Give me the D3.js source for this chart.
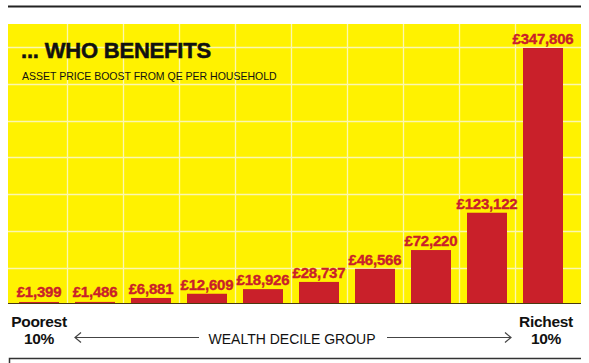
<!DOCTYPE html>
<html><head><meta charset="utf-8">
<script src="https://cdn.jsdelivr.net/npm/d3@7"></script>
<style>body{margin:0;background:#fff}svg{display:block}</style>
</head><body>
<script>
const deciles = ["1","2","3","4","5","6","7","8","9","10"];
const values = [1399,1486,6881,12609,18926,28737,46566,72220,123122,347806];
const valueLabels = ["£1,399","£1,486","£6,881","£12,609","£18,926","£28,737","£46,566","£72,220","£123,122","£347,806"];
const title = "... WHO BENEFITS";
const subtitle = "ASSET PRICE BOOST FROM QE PER HOUSEHOLD";
const axisTitle = "WEALTH DECILE GROUP";
const leftLabel = ["Poorest","10%"];
const rightLabel = ["Richest","10%"];

const W=589,H=363;
const FONT="Liberation Sans, Arial, sans-serif";
const svg=d3.select("body").append("svg").attr("width",W).attr("height",H);
const panel={x0:8,x1:581,y0:24,y1:303};
const x=d3.scaleBand().domain(deciles).range([11,571]).paddingInner(0.286).paddingOuter(0.143);
const y=d3.scaleLinear().domain([0,347806]).range([303,48]);
const RED="#c9202a", YEL="#fff200", GRID="#fbf7b0";

svg.append("line").attr("x1",8).attr("x2",581).attr("y1",6.5).attr("y2",6.5).attr("stroke","#222").attr("stroke-width",2);
svg.append("rect").attr("x",panel.x0).attr("y",panel.y0).attr("width",panel.x1-panel.x0).attr("height",panel.y1-panel.y0).attr("fill",YEL);

// horizontal grid
const hLines=d3.range(0,7).map(i=>47+i*36.8);
svg.selectAll(".hg").data(hLines).join("line").attr("x1",panel.x0).attr("x2",panel.x1)
  .attr("y1",d=>Math.round(d)+0.5).attr("y2",d=>Math.round(d)+0.5).attr("stroke",GRID).attr("stroke-width",1.3);
// vertical grid at band boundaries
const step=x.step();
const vLines=deciles.slice(1).map(d=>x(d)-(step-x.bandwidth())/2);
svg.selectAll(".vg").data(vLines).join("line").attr("y1",panel.y0).attr("y2",panel.y1)
  .attr("x1",d=>Math.round(d)+0.5).attr("x2",d=>Math.round(d)+0.5).attr("stroke",GRID).attr("stroke-width",1.3);

// bars
svg.selectAll(".bar").data(values).join("rect")
  .attr("x",(d,i)=>x(deciles[i])).attr("width",x.bandwidth())
  .attr("y",d=>y(d)).attr("height",d=>y(0)-y(d)).attr("fill",RED);
svg.append("line").attr("x1",panel.x0).attr("x2",panel.x1).attr("y1",303.5).attr("y2",303.5).attr("stroke","#4a3a10").attr("stroke-width",1);

// value labels
svg.selectAll(".vl").data(values).join("text")
  .attr("x",(d,i)=>x(deciles[i])+x.bandwidth()/2)
  .attr("y",d=>Math.min(y(d)-4,297))
  .attr("text-anchor","middle").attr("fill",RED)
  .attr("stroke",RED).attr("stroke-width",0.35)
  .attr("font-family",FONT).attr("font-weight","bold")
  .attr("font-size",15).attr("letter-spacing",-0.2)
  .text((d,i)=>valueLabels[i]);

// title
svg.append("text").attr("x",21).attr("y",58).text(title)
  .attr("font-family",FONT).attr("font-weight","bold")
  .attr("stroke","#111").attr("stroke-width",0.5)
  .attr("font-size",22).attr("letter-spacing",-0.2).attr("fill","#111");
svg.append("text").attr("x",22).attr("y",80).text(subtitle)
  .attr("font-family",FONT)
  .attr("font-size",10.5).attr("letter-spacing",0).attr("fill","#111");

// bottom labels
function corner(lbl,cx){
  lbl.forEach((t,k)=>{
    svg.append("text").attr("x",cx).attr("y",327+k*17).attr("text-anchor","middle").text(t)
      .attr("font-family",FONT).attr("font-weight","bold").attr("font-size",15.5)
      .attr("letter-spacing",-0.3).attr("fill","#111");
  });
}
corner(leftLabel,39); corner(rightLabel,546);

svg.append("text").attr("x",292).attr("y",344).attr("text-anchor","middle").text(axisTitle)
  .attr("font-family",FONT).attr("font-size",14).attr("fill","#111");
const ay=337.5;
svg.append("line").attr("x1",75).attr("x2",199).attr("y1",ay).attr("y2",ay).attr("stroke","#444").attr("stroke-width",1.2);
svg.append("path").attr("d",`M${81},${ay-5}L${75},${ay}L${81},${ay+5}`).attr("fill","none").attr("stroke","#444").attr("stroke-width",1.2);
svg.append("line").attr("x1",387).attr("x2",511).attr("y1",ay).attr("y2",ay).attr("stroke","#444").attr("stroke-width",1.2);
svg.append("path").attr("d",`M${505},${ay-5}L${511},${ay}L${505},${ay+5}`).attr("fill","none").attr("stroke","#444").attr("stroke-width",1.2);

// bottom box edge
svg.append("path").attr("d","M9.5,364V358.5H581").attr("fill","none").attr("stroke","#333").attr("stroke-width",1.5);
</script>
</body></html>
